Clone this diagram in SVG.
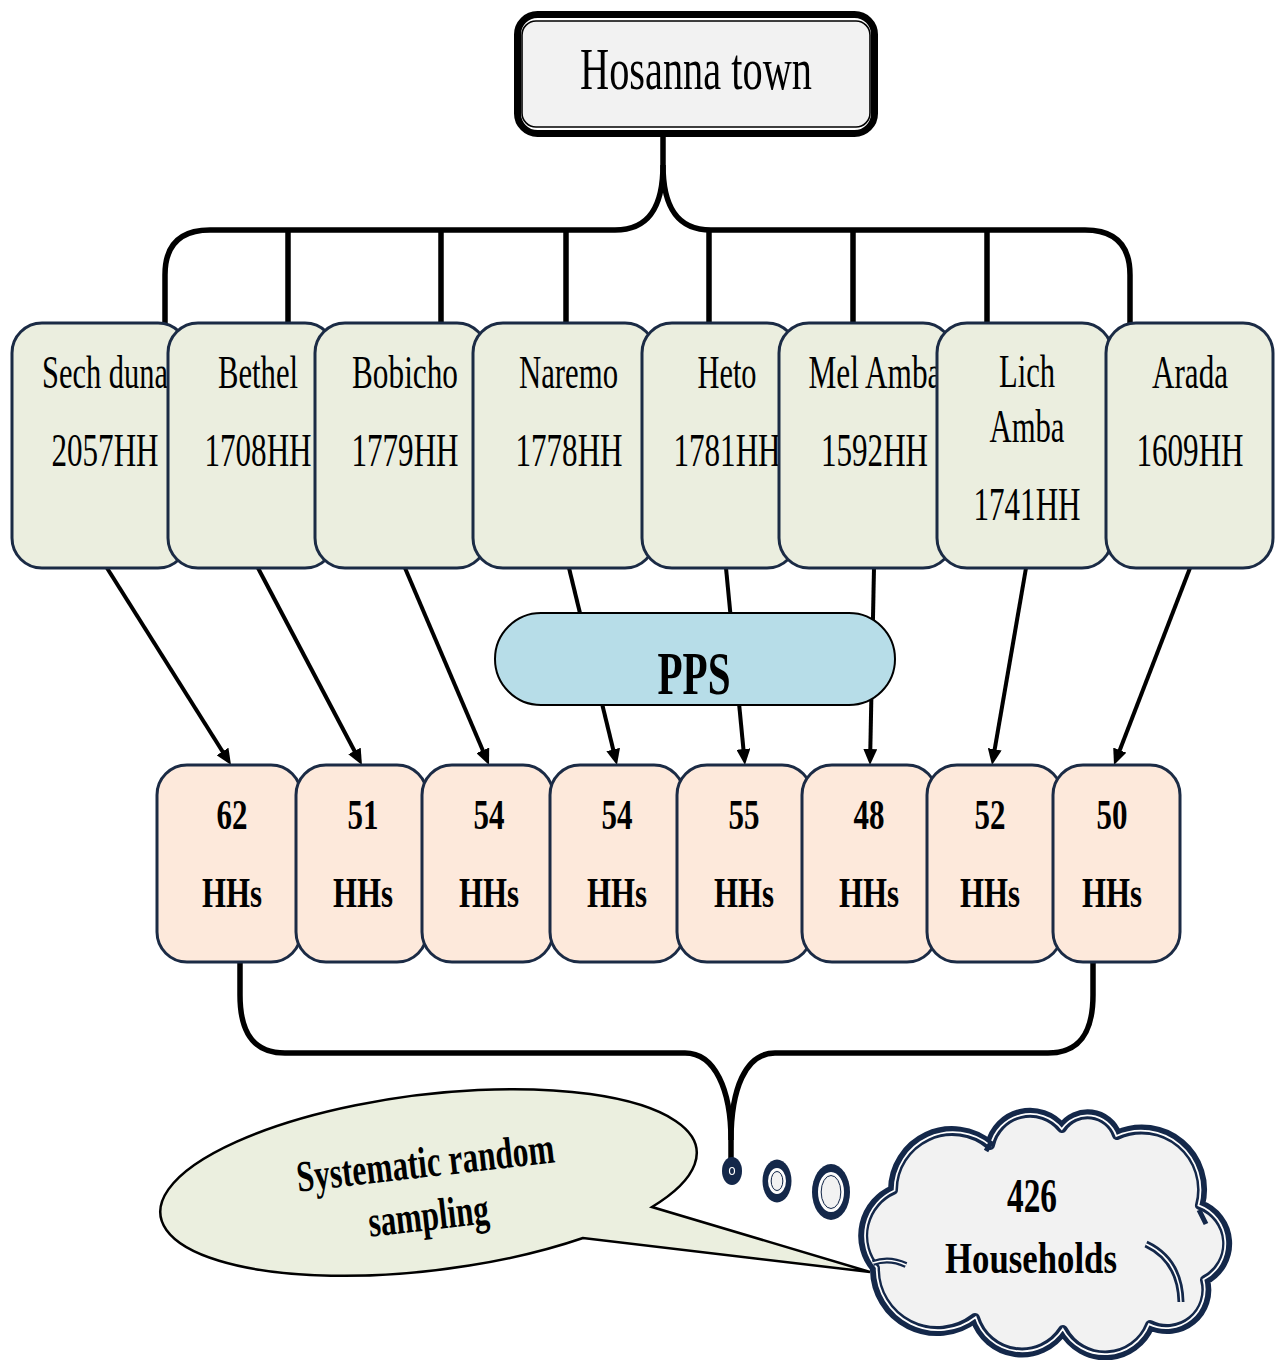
<svg xmlns="http://www.w3.org/2000/svg" width="1277" height="1360" viewBox="0 0 1277 1360">
<defs>
<style>
.kb{fill:#ebeedf;stroke:#1b2b45;stroke-width:3}
.hh{fill:#fde9db;stroke:#1b2b45;stroke-width:3}
.t{font-family:"Liberation Serif","Times New Roman",serif;fill:#000;text-anchor:middle}
.r47{font-size:47px}
.b{font-weight:bold}
.ln{fill:none;stroke:#000;stroke-width:5.5;stroke-linejoin:round}
.ar{fill:none;stroke:#000;stroke-width:4;marker-end:url(#ah)}
.navy{fill:#14284a}
</style>
<marker id="ah" markerUnits="userSpaceOnUse" markerWidth="16" markerHeight="14" viewBox="0 0 16 14" refX="6" refY="7" orient="auto"><path d="M0,0 L16,7 L0,14 Z" fill="#000"/></marker>
</defs>
<rect width="1277" height="1360" fill="#fff"/>

<g id="connectors">
<path class="ln" d="M663,137 L663,165 C663,205 650,230 615,230 L210,230 Q165,230 165,275 L165,325"/>
<path class="ln" d="M663,165 C663,205 676,230 711,230 L1085,230 Q1130,230 1130,275 L1130,325"/>
<path class="ln" d="M288,230 V325 M441,230 V325 M566,230 V325 M709,230 V325 M853,230 V325 M987,230 V325"/>
<line class="ar" x1="107" y1="568" x2="225.7" y2="756.5"/>
<line class="ar" x1="258" y1="568" x2="357.3" y2="756.2"/>
<line class="ar" x1="405" y1="568" x2="485.1" y2="755.8"/>
<line class="ar" x1="569" y1="568" x2="614.6" y2="755.3"/>
<line class="ar" x1="726" y1="568" x2="744.0" y2="755.0"/>
<line class="ar" x1="874" y1="568" x2="870.2" y2="755.0"/>
<line class="ar" x1="1026" y1="568" x2="993.7" y2="755.2"/>
<line class="ar" x1="1190" y1="568" x2="1117.6" y2="755.7"/>
<path class="ln" d="M240,962 L240,995 C240,1035 255,1053 285,1053 L685,1053 C715,1053 731,1090 731,1140 L731,1160"/>
<path class="ln" d="M1093,962 L1093,995 C1093,1035 1078,1053 1048,1053 L775,1053 C745,1053 731,1090 731,1140"/>
</g>

<g id="hosanna">
<rect x="517.5" y="14.5" width="357" height="119" rx="20" fill="#fff" stroke="#000" stroke-width="7"/>
<rect x="522" y="21" width="348" height="106" rx="14" fill="#f2f2f2" stroke="#000" stroke-width="1.6"/>
<text class="t" x="696" y="89" font-size="59" textLength="232" lengthAdjust="spacingAndGlyphs">Hosanna town</text>
</g>

<g id="k1"><rect class="kb" x="12" y="323" width="176" height="245" rx="30"/>
<text class="t r47" x="105" y="388" textLength="126" lengthAdjust="spacingAndGlyphs">Sech duna</text>
<text class="t r47" x="105" y="466" textLength="107" lengthAdjust="spacingAndGlyphs">2057HH</text></g>
<g id="k2"><rect class="kb" x="168" y="323" width="167" height="245" rx="30"/>
<text class="t r47" x="258" y="388" textLength="80" lengthAdjust="spacingAndGlyphs">Bethel</text>
<text class="t r47" x="258" y="466" textLength="107" lengthAdjust="spacingAndGlyphs">1708HH</text></g>
<g id="k3"><rect class="kb" x="315" y="323" width="172" height="245" rx="30"/>
<text class="t r47" x="405" y="388" textLength="106" lengthAdjust="spacingAndGlyphs">Bobicho</text>
<text class="t r47" x="405" y="466" textLength="107" lengthAdjust="spacingAndGlyphs">1779HH</text></g>
<g id="k4"><rect class="kb" x="473" y="323" width="182" height="245" rx="30"/>
<text class="t r47" x="568.5" y="388" textLength="99" lengthAdjust="spacingAndGlyphs">Naremo</text>
<text class="t r47" x="569" y="466" textLength="107" lengthAdjust="spacingAndGlyphs">1778HH</text></g>
<g id="k5"><rect class="kb" x="642" y="323" width="155" height="245" rx="30"/>
<text class="t r47" x="727" y="388" textLength="59" lengthAdjust="spacingAndGlyphs">Heto</text>
<text class="t r47" x="727" y="466" textLength="107" lengthAdjust="spacingAndGlyphs">1781HH</text></g>
<g id="k6"><rect class="kb" x="779" y="323" width="174" height="245" rx="30"/>
<text class="t r47" x="875" y="388" textLength="133" lengthAdjust="spacingAndGlyphs">Mel Amba</text>
<text class="t r47" x="874.5" y="466" textLength="107" lengthAdjust="spacingAndGlyphs">1592HH</text></g>
<g id="k7"><rect class="kb" x="937" y="323" width="175" height="245" rx="30"/>
<text class="t r47" x="1027" y="387" textLength="56" lengthAdjust="spacingAndGlyphs">Lich</text>
<text class="t r47" x="1027" y="442" textLength="75" lengthAdjust="spacingAndGlyphs">Amba</text>
<text class="t r47" x="1027" y="520" textLength="107" lengthAdjust="spacingAndGlyphs">1741HH</text></g>
<g id="k8"><rect class="kb" x="1106" y="323" width="167" height="245" rx="30"/>
<text class="t r47" x="1190" y="388" textLength="76" lengthAdjust="spacingAndGlyphs">Arada</text>
<text class="t r47" x="1190" y="466" textLength="107" lengthAdjust="spacingAndGlyphs">1609HH</text></g>

<g id="pps">
<rect x="495" y="613" width="400" height="92" rx="46" fill="#b7dde8" stroke="#000" stroke-width="2"/>
<text class="t b" x="694" y="694" font-size="62" textLength="73" lengthAdjust="spacingAndGlyphs">PPS</text>
</g>

<g id="h1"><rect class="hh" x="157" y="765" width="144" height="197" rx="30"/>
<text class="t b" x="232" y="829" font-size="43" textLength="31" lengthAdjust="spacingAndGlyphs">62</text>
<text class="t b" x="232" y="907" font-size="43" textLength="60" lengthAdjust="spacingAndGlyphs">HHs</text></g>
<g id="h2"><rect class="hh" x="296" y="765" width="131" height="197" rx="30"/>
<text class="t b" x="363" y="829" font-size="43" textLength="31" lengthAdjust="spacingAndGlyphs">51</text>
<text class="t b" x="363" y="907" font-size="43" textLength="60" lengthAdjust="spacingAndGlyphs">HHs</text></g>
<g id="h3"><rect class="hh" x="422" y="765" width="131" height="197" rx="30"/>
<text class="t b" x="489" y="829" font-size="43" textLength="31" lengthAdjust="spacingAndGlyphs">54</text>
<text class="t b" x="489" y="907" font-size="43" textLength="60" lengthAdjust="spacingAndGlyphs">HHs</text></g>
<g id="h4"><rect class="hh" x="550" y="765" width="134" height="197" rx="30"/>
<text class="t b" x="617" y="829" font-size="43" textLength="31" lengthAdjust="spacingAndGlyphs">54</text>
<text class="t b" x="617" y="907" font-size="43" textLength="60" lengthAdjust="spacingAndGlyphs">HHs</text></g>
<g id="h5"><rect class="hh" x="677" y="765" width="135" height="197" rx="30"/>
<text class="t b" x="744" y="829" font-size="43" textLength="31" lengthAdjust="spacingAndGlyphs">55</text>
<text class="t b" x="744" y="907" font-size="43" textLength="60" lengthAdjust="spacingAndGlyphs">HHs</text></g>
<g id="h6"><rect class="hh" x="802" y="765" width="135" height="197" rx="30"/>
<text class="t b" x="869" y="829" font-size="43" textLength="31" lengthAdjust="spacingAndGlyphs">48</text>
<text class="t b" x="869" y="907" font-size="43" textLength="60" lengthAdjust="spacingAndGlyphs">HHs</text></g>
<g id="h7"><rect class="hh" x="927" y="765" width="135" height="197" rx="30"/>
<text class="t b" x="990" y="829" font-size="43" textLength="31" lengthAdjust="spacingAndGlyphs">52</text>
<text class="t b" x="990" y="907" font-size="43" textLength="60" lengthAdjust="spacingAndGlyphs">HHs</text></g>
<g id="h8"><rect class="hh" x="1053" y="765" width="127" height="197" rx="30"/>
<text class="t b" x="1112" y="829" font-size="43" textLength="31" lengthAdjust="spacingAndGlyphs">50</text>
<text class="t b" x="1112" y="907" font-size="43" textLength="60" lengthAdjust="spacingAndGlyphs">HHs</text></g>

<g id="callout">
<path d="M583,1238 A270,88 -7 1 1 652,1207 L870,1272 Z" fill="#ebefdf" stroke="#000" stroke-width="2.5" stroke-linejoin="miter"/>
<text class="t b" transform="translate(427,1177) rotate(-6.5)" font-size="44" textLength="259" lengthAdjust="spacingAndGlyphs">Systematic random</text>
<text class="t b" transform="translate(430,1230) rotate(-6.5)" font-size="44" textLength="121" lengthAdjust="spacingAndGlyphs">sampling</text>
</g>

<g id="thought-bubbles">
<ellipse class="navy" cx="732" cy="1171" rx="10" ry="14"/>
<ellipse cx="732" cy="1171" rx="2.5" ry="3.5" fill="none" stroke="#fff" stroke-width="1.2"/>
<ellipse class="navy" cx="777" cy="1181" rx="14.5" ry="21.5"/>
<ellipse cx="777" cy="1181" rx="8" ry="12" fill="#f2f2f2" stroke="#fff" stroke-width="2"/>
<ellipse cx="777" cy="1181" rx="5.8" ry="9.5" fill="none" stroke="#14284a" stroke-width="1"/>
<ellipse class="navy" cx="831" cy="1192" rx="19" ry="28"/>
<ellipse cx="831" cy="1192" rx="12" ry="19" fill="#f2f2f2" stroke="#fff" stroke-width="2"/>
<ellipse cx="831" cy="1192" rx="9.8" ry="16.5" fill="none" stroke="#14284a" stroke-width="1"/>
</g>

<g id="cloud">
<path d="M875,1268 A50,50 0 0 1 893,1190 A59,59 0 0 1 990,1145 A41,41 0 0 1 1062,1128 A31,31 0 0 1 1117,1135 A60,60 0 0 1 1200,1205 A41,41 0 0 1 1205,1280 A39,39 0 0 1 1150,1325 A48,48 0 0 1 1063,1330 A49,49 0 0 1 975,1318 A62,62 0 0 1 875,1268 Z" fill="#f2f2f2" stroke="#14284a" stroke-width="10" stroke-linejoin="round"/>
<path transform="translate(1045,1237) scale(0.99) translate(-1045,-1237)" d="M875,1268 A50,50 0 0 1 893,1190 A59,59 0 0 1 990,1145 A41,41 0 0 1 1062,1128 A31,31 0 0 1 1117,1135 A60,60 0 0 1 1200,1205 A41,41 0 0 1 1205,1280 A39,39 0 0 1 1150,1325 A48,48 0 0 1 1063,1330 A49,49 0 0 1 975,1318 A62,62 0 0 1 875,1268 Z" fill="none" stroke="#fff" stroke-width="1.8"/>
<path d="M873,1263 Q889,1257 906,1265" fill="none" stroke="#14284a" stroke-width="6"/>
<path d="M873,1263 Q889,1257 906,1265" fill="none" stroke="#fff" stroke-width="1.5"/>
<path d="M1146,1244 Q1180,1260 1181,1302" fill="none" stroke="#14284a" stroke-width="7"/>
<path d="M1146,1244 Q1180,1260 1181,1302" fill="none" stroke="#fff" stroke-width="1.5"/>
<path d="M986,1151 L992,1141 M1199,1210 L1206,1224" fill="none" stroke="#14284a" stroke-width="5"/>
<text class="t b" x="1032" y="1212" font-size="48" textLength="50" lengthAdjust="spacingAndGlyphs">426</text>
<text class="t b" x="1031" y="1273" font-size="45" textLength="172" lengthAdjust="spacingAndGlyphs">Households</text>
</g>
</svg>
